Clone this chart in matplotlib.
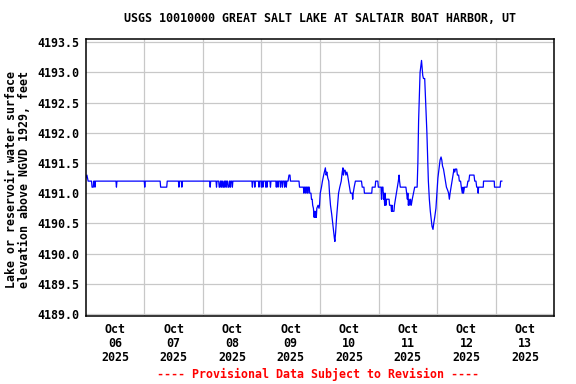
import matplotlib
matplotlib.use("Agg")
import matplotlib.pyplot as plt

title = "USGS 10010000 GREAT SALT LAKE AT SALTAIR BOAT HARBOR, UT"
ylabel = "Lake or reservoir water surface\nelevation above NGVD 1929, feet"
footer = "---- Provisional Data Subject to Revision ----"
day_labels = ["Oct\n06\n2025", "Oct\n07\n2025", "Oct\n08\n2025", "Oct\n09\n2025",
              "Oct\n10\n2025", "Oct\n11\n2025", "Oct\n12\n2025", "Oct\n13\n2025"]
y_ticks = [4189.0, 4189.5, 4190.0, 4190.5, 4191.0, 4191.5, 4192.0, 4192.5, 4193.0, 4193.5]

# hours since 2025-10-06 00:00 and water-surface elevation (ft), day by day
hours_oct06 = [0.0, 0.5, 1.0, 2.4, 2.6, 3.1, 3.3, 3.6, 3.8, 4.0, 12.4, 12.6, 12.8]
level_oct06 = [4191.25, 4191.3, 4191.2, 4191.2, 4191.1, 4191.1, 4191.2, 4191.2, 4191.1, 4191.2,
               4191.2, 4191.1, 4191.2]

hours_oct07 = [24.0, 24.2, 24.4, 30.5, 30.7, 33.2, 33.4, 38.0, 38.2, 38.4, 39.2, 39.4, 39.6]
level_oct07 = [4191.2, 4191.1, 4191.2, 4191.2, 4191.1, 4191.1, 4191.2, 4191.2, 4191.1, 4191.2,
               4191.2, 4191.1, 4191.2]

hours_oct08 = [50.8, 51.0, 51.2, 53.4, 53.6, 53.8, 54.5, 54.7, 55.0, 55.2, 55.4, 55.6, 55.8,
               56.0, 56.2, 56.5, 56.7, 56.8, 57.0, 57.2, 57.4, 57.6, 57.8, 58.1, 58.3, 58.7,
               58.9, 59.1, 59.3, 59.5, 59.9, 60.1, 60.3, 68.1, 68.3, 68.5, 69.1, 69.3, 69.5,
               70.8, 71.0, 71.2, 71.8, 72.0, 72.2]
level_oct08 = [4191.2, 4191.1, 4191.2, 4191.2, 4191.1, 4191.2, 4191.2, 4191.1, 4191.1, 4191.2,
               4191.2, 4191.1, 4191.2, 4191.2, 4191.1, 4191.1, 4191.2, 4191.2, 4191.1, 4191.2,
               4191.2, 4191.1, 4191.2, 4191.2, 4191.1, 4191.1, 4191.2, 4191.2, 4191.1, 4191.2,
               4191.2, 4191.1, 4191.2, 4191.2, 4191.1, 4191.2, 4191.2, 4191.1, 4191.2,
               4191.2, 4191.1, 4191.2, 4191.2, 4191.1, 4191.2]

hours_oct09 = [72.4, 72.6, 72.8, 73.6, 73.8, 74.0, 74.1, 74.3, 74.5, 75.5, 75.7, 75.9,
               77.9, 78.1, 78.3, 78.6, 78.8, 79.0, 79.6, 79.8, 80.0, 80.4, 80.6, 80.8,
               81.3, 81.5, 81.7, 82.0, 82.2, 82.4, 82.9, 83.3, 83.7, 83.9, 87.4, 87.6,
               89.2, 89.4, 89.6, 90.0, 90.2, 90.4, 90.8, 91.0, 91.2, 91.6, 91.8,
               92.3, 92.5, 92.8, 93.0, 93.3, 93.6, 93.8, 94.0, 94.3, 94.5, 94.7, 95.2, 95.6, 95.8]
level_oct09 = [4191.2, 4191.1, 4191.2, 4191.2, 4191.1, 4191.2, 4191.2, 4191.1, 4191.2,
               4191.2, 4191.1, 4191.2, 4191.2, 4191.1, 4191.2, 4191.2, 4191.1, 4191.2,
               4191.2, 4191.1, 4191.2, 4191.2, 4191.1, 4191.2, 4191.2, 4191.1, 4191.2,
               4191.2, 4191.1, 4191.2, 4191.2, 4191.3, 4191.3, 4191.2, 4191.2, 4191.1,
               4191.1, 4191.0, 4191.1, 4191.1, 4191.0, 4191.1, 4191.1, 4191.0, 4191.1,
               4191.1, 4191.0, 4191.0, 4190.9, 4190.9, 4190.8, 4190.75, 4190.6, 4190.7,
               4190.6, 4190.7, 4190.6, 4190.75, 4190.8, 4190.75, 4190.8]

hours_oct10 = [96.1, 96.6, 97.0, 97.5, 98.2, 98.5, 98.8, 99.2, 99.6, 99.9, 100.3, 100.8,
               101.2, 101.6, 101.9, 102.1, 102.4, 102.8, 103.2, 103.6, 104.1, 104.7, 105.1,
               105.4, 105.6, 105.9, 106.3, 106.6, 107.0, 107.3, 107.7, 108.1, 108.5, 109.2,
               109.4, 109.6, 110.0, 110.5, 113.0, 113.3, 114.0, 114.2, 117.2, 117.4, 118.6,
               118.8, 119.7, 119.9]
level_oct10 = [4191.0, 4191.1, 4191.2, 4191.3, 4191.42, 4191.3, 4191.35, 4191.25, 4191.2,
               4191.0, 4190.8, 4190.65, 4190.5, 4190.35, 4190.25, 4190.2, 4190.35, 4190.6,
               4190.8, 4191.0, 4191.1, 4191.2, 4191.35, 4191.42, 4191.3, 4191.38, 4191.38,
               4191.3, 4191.35, 4191.3, 4191.2, 4191.1, 4191.0, 4191.0, 4190.9, 4191.0,
               4191.1, 4191.2, 4191.2, 4191.1, 4191.1, 4191.0, 4191.0, 4191.1, 4191.1,
               4191.2, 4191.2, 4191.1]

hours_oct11 = [121.0, 121.2, 121.4, 121.8, 122.0, 122.2, 122.5, 122.7, 123.0, 123.3, 124.3,
               124.5, 125.1, 125.3, 125.5, 125.7, 126.3, 126.5, 126.9, 127.3, 127.7, 128.1,
               128.4, 128.6, 128.9, 131.2, 131.5, 131.8, 132.0, 132.2, 132.5, 132.8, 133.1,
               133.4, 133.8, 134.3, 134.8, 135.8, 136.1, 136.4, 136.7, 137.0, 137.3, 137.6,
               137.8, 138.1, 138.4, 138.9, 139.2, 139.5, 139.8, 140.1, 140.4, 140.8, 141.2,
               141.6, 141.9, 142.3, 142.6, 143.0, 143.5, 143.9]
level_oct11 = [4191.1, 4190.9, 4191.1, 4191.1, 4190.9, 4191.0, 4190.8, 4191.0, 4190.8,
               4190.9, 4190.9, 4190.8, 4190.8, 4190.7, 4190.8, 4190.7, 4190.7, 4190.8,
               4190.9, 4191.0, 4191.1, 4191.2, 4191.3, 4191.2, 4191.1, 4191.1, 4191.0,
               4190.9, 4191.0, 4190.8, 4190.9, 4190.8, 4190.9, 4190.8, 4190.9, 4191.0,
               4191.1, 4191.1, 4191.5, 4192.2, 4192.6, 4193.0, 4193.1, 4193.2, 4193.1,
               4192.95, 4192.9, 4192.9, 4192.6, 4192.3, 4192.0, 4191.6, 4191.2, 4190.9,
               4190.7, 4190.55, 4190.45, 4190.4, 4190.5, 4190.6, 4190.75, 4191.0]

hours_oct12 = [144.3, 144.6, 144.9, 145.2, 145.6, 145.9, 146.2, 146.6, 147.0, 147.4, 147.8,
               148.3, 148.7, 149.0, 149.3, 149.7, 150.1, 150.5, 150.9, 151.2, 151.5, 152.0,
               152.3, 152.8, 153.1, 153.6, 153.9, 154.3, 154.6, 154.8, 155.2, 156.2, 156.6,
               157.0, 157.3, 159.1, 159.4, 159.9, 160.2, 160.6, 160.8, 161.0, 162.9, 163.0,
               167.4, 167.5]
level_oct12 = [4191.25, 4191.35, 4191.45, 4191.55, 4191.6, 4191.55, 4191.45, 4191.4, 4191.3,
               4191.2, 4191.1, 4191.05, 4191.0, 4190.9, 4191.0, 4191.1, 4191.2, 4191.3,
               4191.4, 4191.35, 4191.4, 4191.4, 4191.3, 4191.3, 4191.2, 4191.2, 4191.1,
               4191.0, 4191.1, 4191.0, 4191.1, 4191.1, 4191.2, 4191.2, 4191.3, 4191.3,
               4191.2, 4191.2, 4191.1, 4191.1, 4191.0, 4191.1, 4191.1, 4191.2, 4191.2, 4191.1]

hours_oct13 = [169.8, 170.0, 170.5]
level_oct13 = [4191.1, 4191.2, 4191.2]

hours = (hours_oct06 + hours_oct07 + hours_oct08 + hours_oct09 + hours_oct10
         + hours_oct11 + hours_oct12 + hours_oct13)
level = (level_oct06 + level_oct07 + level_oct08 + level_oct09 + level_oct10
         + level_oct11 + level_oct12 + level_oct13)

FONT = dict(family="DejaVu Sans Mono", weight="bold", size=8.4)

W, H = 576, 384
fig = plt.figure(figsize=(W / 100, H / 100), dpi=100)
ax = fig.add_axes([85.7 / W, 1 - 315.7 / H, (554.3 - 85.7) / W, (315.7 - 39.3) / H])

ax.plot(hours, level, color="#0000ff", lw=0.9)

ax.set_xlim(0, 192)
ax.set_ylim(4188.97, 4193.55)

ax.set_xticks([24 * k for k in range(1, 8)])
ax.set_xticklabels([])
ax.set_xticks([12 + 24 * k for k in range(8)], day_labels, minor=True)
ax.set_yticks(y_ticks, [f"{v:.1f}" for v in y_ticks])

ax.grid(True, which="major", color="#c8c8c8", lw=0.9)
ax.set_axisbelow(True)
ax.tick_params(which="both", length=0)
ax.tick_params(axis="y", pad=4.5)
ax.tick_params(axis="x", which="minor", pad=5)
for t in ax.get_yticklabels():
    t.set(**FONT)
for t in ax.get_xticklabels(minor=True):
    t.set(**FONT)
    t.set_linespacing(1.1)
for s in ax.spines.values():
    s.set_linewidth(1.1)
    s.set_color("black")

fig.text(320 / W, 1 - 19 / H, title, ha="center", va="center", **FONT)
fig.text(18 / W, 1 - 180 / H, ylabel, rotation=90, ha="center", va="center",
         multialignment="center", linespacing=1.05, **FONT)
fig.text(318 / W, 1 - 374.5 / H, footer, ha="center", va="center", color="#ff0000", **FONT)

fig.savefig("out.png", dpi=100)
